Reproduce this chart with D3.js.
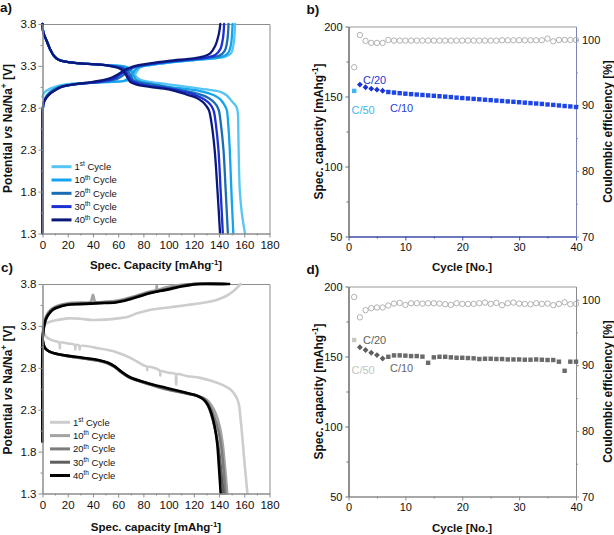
<!DOCTYPE html>
<html><head><meta charset="utf-8">
<script src="https://cdn.jsdelivr.net/npm/d3@7"></script>
<style>body{margin:0;background:#fff}svg{display:block}</style>
</head><body><svg id="c" width="614" height="535"></svg>
<script>
// ---------- tick values ----------
const capTicks = [0,20,40,60,80,100,120,140,160,180];
const capMinor = [10,30,50,70,90,110,130,150,170];
const potTicks = [1.3,1.8,2.3,2.8,3.3,3.8];
const potMinor = [1.55,2.05,2.55,3.05,3.55];
const cycleTicks = [0,10,20,30,40];
const cycleMinor = [5,15,25,35];
const specTicks = [50,100,150,200];
const specMinor = [75,125,175];
const ceTicks = [70,80,90,100];
const ceMinor = [75,85,95];

// ---------- legend ----------
const cycleNums = ["1","10","20","30","40"];
const cycleSup = ["st","th","th","th","th"];
const colorsA = ["#55c6f4","#14a3ee","#1a6db4","#1b2fd4","#0b1878"];
const colorsC = ["#cdcdcd","#a4a4a4","#7c7c7c","#5e5e5e","#000000"];

// ---------- panel a: voltage profiles (capacity mAh/g, potential V) ----------
const aCharge = [
 [[0,2.93],[0.6,2.96],[2,2.99],[5,3.02],[10,3.05],[15,3.07],[25,3.09],[40,3.1],[55,3.11],[66,3.12],[70,3.14],[73,3.19],[75.5,3.25],[78,3.29],[85,3.31],[100,3.34],[120,3.37],[135,3.39],[145,3.41],[149.5,3.45],[151.5,3.56],[152.3,3.68],[152.7,3.8]],
 [[0,1.3],[0,2.6],[0.2,2.78],[1,2.87],[3,2.94],[6,2.99],[10,3.03],[15,3.06],[25,3.08],[40,3.1],[55,3.11],[64,3.12],[68,3.15],[71,3.2],[74,3.26],[78,3.29],[85,3.31],[100,3.34],[120,3.37],[135,3.39],[143,3.41],[147.5,3.46],[149.5,3.56],[150.3,3.68],[150.7,3.8]],
 [[0,1.3],[0,2.6],[0.2,2.78],[1,2.87],[3,2.93],[6,2.98],[10,3.02],[15,3.05],[25,3.08],[40,3.1],[52,3.12],[60,3.15],[65,3.2],[69,3.25],[74,3.29],[85,3.32],[100,3.35],[120,3.38],[132,3.4],[140,3.42],[144.5,3.48],[146.5,3.6],[147.2,3.7],[147.5,3.8]],
 [[0,1.3],[0,2.6],[0.2,2.78],[1,2.86],[3,2.92],[6,2.97],[10,3.01],[15,3.05],[25,3.08],[40,3.1],[50,3.12],[57,3.15],[62,3.2],[67,3.25],[73,3.29],[85,3.32],[100,3.35],[120,3.38],[130,3.4],[137,3.43],[141,3.5],[143,3.62],[143.7,3.72],[144,3.8]],
 [[0,1.3],[0,2.6],[0.2,2.78],[1,2.86],[3,2.92],[6,2.97],[10,3.01],[15,3.05],[25,3.08],[40,3.11],[48,3.13],[55,3.16],[60,3.2],[65,3.25],[71,3.29],[85,3.33],[100,3.36],[120,3.39],[127,3.41],[133,3.45],[137,3.54],[139.5,3.66],[140.5,3.74],[141,3.8]]
];
const aDisStart = [[0,3.8],[0.4,3.72],[1.5,3.66],[3,3.61],[6,3.5],[9,3.42],[12,3.38],[18,3.35],[30,3.33],[50,3.31]];
const aDischarge = [
 [[62,3.3],[68,3.28],[71,3.25],[73,3.2],[75,3.16],[78,3.13],[85,3.11],[100,3.08],[125,3.03],[141,2.99],[146,2.95],[150,2.88],[153.5,2.82],[154.8,2.75],[155.3,2.5],[155.8,2.1],[156.5,1.8],[158,1.55],[160.6,1.3]],
 [[62,3.3],[67,3.28],[70,3.24],[72,3.19],[74,3.14],[78,3.11],[85,3.09],[100,3.05],[125,3.0],[136,2.95],[141,2.9],[144,2.84],[146,2.78],[147.3,2.6],[148.5,2.3],[149.8,1.8],[151.3,1.3]],
 [[60,3.29],[65,3.27],[68,3.23],[70,3.18],[72,3.13],[77,3.1],[85,3.08],[100,3.04],[120,2.98],[130,2.93],[135,2.88],[138,2.83],[139.8,2.77],[141.5,2.6],[143.5,2.3],[145.3,1.8],[147,1.3]],
 [[58,3.29],[63,3.27],[66,3.23],[68.5,3.17],[71,3.12],[76,3.09],[85,3.06],[100,3.03],[118,2.97],[126,2.92],[131,2.87],[134,2.82],[135.8,2.76],[137.5,2.6],[139.5,2.3],[141.3,1.8],[143,1.3]],
 [[56,3.29],[61,3.27],[64.5,3.23],[67,3.17],[69.5,3.11],[74,3.08],[85,3.05],[100,3.02],[114,2.96],[122,2.92],[127,2.87],[130,2.82],[132,2.77],[134,2.62],[136.5,2.3],[138.8,1.8],[140.8,1.3]]
];

// ---------- panel c: voltage profiles ----------
const cCharge = [
 [[0,3.29],[1,3.31],[3,3.33],[6,3.35],[12,3.37],[20,3.39],[30,3.385],[40,3.37],[50,3.375],[60,3.39],[68,3.41],[75,3.45],[85,3.49],[100,3.52],[115,3.55],[125,3.57],[138,3.61],[146,3.66],[151,3.71],[154.5,3.76],[157,3.8]],
 [[0,1.92],[0,3.1],[0.4,3.22],[1.2,3.32],[2.5,3.4],[4.5,3.46],[8,3.51],[12,3.54],[20,3.57],[30,3.58],[38,3.585],[40,3.67],[42,3.585],[50,3.59],[58,3.6],[65,3.62],[72,3.65],[85,3.71],[90,3.73],[90.6,3.78],[91.2,3.735],[98,3.76],[110,3.79],[120,3.8],[142,3.8]],
 [[0,1.92],[0,3.1],[0.4,3.22],[1.2,3.31],[2.5,3.39],[4.5,3.45],[8,3.5],[12,3.53],[20,3.56],[30,3.57],[45,3.58],[58,3.59],[65,3.61],[72,3.64],[85,3.7],[98,3.74],[110,3.78],[120,3.8],[144,3.8]],
 [[0,1.92],[0,3.11],[0.4,3.21],[1.2,3.3],[2.5,3.38],[4.5,3.44],[8,3.5],[12,3.53],[20,3.555],[30,3.565],[45,3.575],[58,3.585],[65,3.605],[72,3.635],[85,3.695],[98,3.735],[110,3.775],[120,3.8],[146,3.8]],
 [[0,1.92],[0,3.12],[0.4,3.2],[1.2,3.29],[2.5,3.37],[4.5,3.43],[8,3.49],[12,3.52],[19,3.55],[30,3.56],[45,3.57],[58,3.58],[65,3.6],[72,3.63],[85,3.69],[98,3.73],[110,3.77],[118,3.79],[125,3.8],[148,3.8]]
];
const cDischarge = [
 [[0,3.29],[1,3.22],[3,3.17],[6,3.14],[12,3.11],[13.3,3.1],[13.8,3.03],[14.3,3.1],[20,3.09],[25.5,3.075],[26,3.02],[26.5,3.07],[29,3.065],[29.5,3.02],[30,3.06],[45.5,3.03],[58,2.99],[65,2.95],[72,2.9],[80,2.83],[82.6,2.815],[83,2.77],[83.4,2.81],[93,2.765],[93.4,2.71],[93.8,2.76],[100,2.74],[105.6,2.725],[106,2.6],[106.4,2.72],[115,2.7],[125,2.68],[135,2.64],[143.5,2.59],[149,2.54],[153,2.47],[155.5,2.38],[157,2.2],[158.3,2.0],[160,1.7],[162.5,1.3]],
 [[0,3.16],[0.5,3.1],[1.5,3.05],[3,3.02],[6,2.99],[10,2.97],[19,2.94],[32,2.91],[45,2.88],[52,2.85],[57,2.81],[62,2.75],[69,2.68],[85,2.6],[98.5,2.54],[111.7,2.5],[124,2.46],[130,2.42],[134,2.35],[137.5,2.25],[140.5,2.1],[142.8,1.9],[144.8,1.6],[146.5,1.3]],
 [[0,3.16],[0.5,3.1],[1.5,3.05],[3,3.02],[6,2.99],[10,2.97],[19,2.94],[32,2.915],[45,2.885],[52,2.855],[57,2.815],[62,2.755],[69,2.685],[85,2.605],[98.5,2.545],[111.7,2.505],[123,2.465],[129,2.42],[133,2.33],[136.5,2.2],[139.5,2.05],[141.8,1.85],[143.5,1.6],[145,1.3]],
 [[0,3.15],[0.5,3.1],[1.5,3.05],[3,3.02],[6,2.99],[10,2.97],[19,2.945],[32,2.915],[45,2.885],[52,2.855],[57,2.815],[62,2.755],[69,2.685],[85,2.605],[98.5,2.55],[111.7,2.505],[122.5,2.465],[128,2.42],[132,2.32],[135,2.18],[137.8,2.0],[140,1.8],[141.8,1.55],[143.5,1.3]],
 [[0,3.15],[0.5,3.1],[1.5,3.05],[3,3.02],[6,2.99],[10,2.97],[19,2.945],[32,2.92],[45,2.89],[52,2.86],[57,2.82],[62,2.76],[69,2.69],[85,2.61],[98.5,2.56],[111.7,2.51],[122,2.47],[127,2.43],[131,2.36],[134,2.25],[136.5,2.1],[138.5,1.9],[140,1.6],[141.3,1.3]]
];

// ---------- panel b: cycling (blue) ----------
const bC50Cycle = [1];
const bC50Cap = [154.0];
const bC20Cycles = [2,3,4,5,6];
const bC20Cap = [158.5,156.6,155.6,154.9,154.1];
const bC10Cycles = [7,8,9,10,11,12,13,14,15,16,17,18,19,20,21,22,23,24,25,26,27,28,29,30,31,32,33,34,35,36,37,38,39,40];
const bC10Cap = [153.2,152.8,152.4,152.0,151.7,151.4,151.1,150.8,150.5,150.2,149.9,149.6,149.2,148.9,148.6,148.3,148.0,147.7,147.4,147.1,146.8,146.5,146.2,145.9,145.6,145.3,145.0,144.7,144.3,144.0,143.6,143.2,142.9,142.5];
const bCECycles = [1,2,3,4,5,6,7,8,9,10,11,12,13,14,15,16,17,18,19,20,21,22,23,24,25,26,27,28,29,30,31,32,33,34,35,36,37,38,39,40];
const bCE = [95.8,100.7,99.8,99.5,99.5,99.5,99.95,99.85,99.85,99.85,99.85,99.85,99.85,99.85,99.85,99.85,99.85,99.85,99.85,99.85,99.85,99.85,99.85,99.85,99.85,99.85,99.9,99.9,99.9,99.9,99.9,99.9,99.9,99.9,100.15,99.75,99.95,99.95,99.95,99.95];

// ---------- panel d: cycling (grey) ----------
const dC50Cap = [161.8];
const dC20Cap = [156.6,154.6,152.7,151.0,148.6];
const dC10Cap = [149.8,150.8,150.8,150.6,150.3,150.3,149.9,145.5,149.4,149.8,149.8,149.4,149.1,149.1,148.9,148.7,148.2,148.4,148.4,148.2,148.2,147.9,147.9,147.9,147.7,147.7,147.9,147.7,147.5,147.5,146.3,139.8,146.3,146.3];
const dCE = [100.4,97.3,98.4,98.7,98.8,98.8,99.1,99.4,99.5,99.2,99.45,99.45,99.4,99.45,99.45,99.4,99.3,99.2,99.45,99.35,99.35,99.35,99.45,99.55,99.35,99.5,99.15,99.45,99.55,99.4,99.35,99.3,99.45,99.35,99.4,99.15,99.35,99.6,99.3,99.35];

// ================= drawing =================
const FONT = "'Liberation Sans', Arial, sans-serif";
const svg = d3.select("#c").attr("font-family", FONT);

function styleAxis(g, color, fs) {
  g.attr("font-family", FONT).attr("font-size", fs);
  g.select(".domain").attr("stroke", color).attr("stroke-width", 1);
  g.selectAll(".tick line").attr("stroke", color);
  g.selectAll(".tick text").attr("fill", "#111");
  return g;
}
function addAxis(axis, tx, ty, color, fs) {
  return styleAxis(svg.append("g").attr("transform", `translate(${tx},${ty})`).call(axis), color, fs);
}
function richText(x, y, parts, opts) {
  const t = svg.append("text").attr("x", x).attr("y", y)
    .attr("font-size", opts.fs).attr("font-weight", opts.bold ? "bold" : "normal")
    .attr("text-anchor", opts.anchor || "start").attr("fill", opts.fill || "#111");
  if (opts.rotate) t.attr("transform", `rotate(-90,${x},${y})`);
  let shift = 0;
  parts.forEach(p => {
    const s = t.append("tspan").text(p.t);
    if (p.i) s.attr("font-style", "italic");
    if (p.sup && shift === 0) { s.attr("dy", -opts.fs * 0.38).attr("font-size", opts.fs * 0.68); shift = 1; }
    else if (!p.sup && shift === 1) { s.attr("dy", opts.fs * 0.38); shift = 0; }
  });
  return t;
}

// ----- profile panels (a, c) -----
function profilePanel(top, bottom, charge, discharge, colors, lw, legY, legX) {
  const x = d3.scaleLinear().domain([0,180]).range([42.5,269.5]);
  const y = d3.scaleLinear().domain([1.3,3.8]).range([bottom, top]);
  const frameCol = "#8d8d8d";
  addAxis(d3.axisTop(x).tickValues([]).tickSizeOuter(0), 0, top, frameCol, 11);
  addAxis(d3.axisRight(y).tickValues([]).tickSizeOuter(0), 269.5, 0, frameCol, 11);
  const line = d3.line().x(d => x(d[0])).y(d => y(d[1])).curve(d3.curveCatmullRom.alpha(0.5));
  const gl = svg.append("g").attr("fill", "none").attr("stroke-linejoin", "round").attr("stroke-linecap", "round");
  charge.forEach((c, i) => {
    gl.append("path").attr("d", line(c)).attr("stroke", colors[i]).attr("stroke-width", lw);
    gl.append("path").attr("d", line(discharge[i])).attr("stroke", colors[i]).attr("stroke-width", lw);
  });
  addAxis(d3.axisBottom(x).tickValues(capMinor).tickSize(2).tickFormat("").tickSizeOuter(0), 0, bottom, frameCol, 11);
  addAxis(d3.axisBottom(x).tickValues(capTicks).tickSize(4).tickPadding(3).tickSizeOuter(0), 0, bottom, frameCol, 11.5);
  addAxis(d3.axisLeft(y).tickValues(potMinor).tickSize(2).tickFormat("").tickSizeOuter(0), 42.5, 0, frameCol, 11);
  addAxis(d3.axisLeft(y).tickValues(potTicks).tickSize(4).tickPadding(2).tickFormat(d3.format(".1f")).tickSizeOuter(0), 42.5, 0, frameCol, 11.5);
  const lg = svg.append("g");
  cycleNums.forEach((n, i) => {
    const yy = legY + i * 13.3;
    lg.append("line").attr("x1", legX).attr("x2", legX + 20).attr("y1", yy).attr("y2", yy)
      .attr("stroke", colors[i]).attr("stroke-width", 3);
    richText(legX + 23, yy + 3.3, [{t:n},{t:cycleSup[i], sup:true},{t:" Cycle"}], {fs: 9.5});
  });
}
profilePanel(24, 233.5, aCharge, aDischarge.map(d => aDisStart.concat(d)), colorsA, 2.3, 166.7, 51.5);
profilePanel(284, 493.5, cCharge, cDischarge, colorsC, 2.6, 422.3, 50);

// ----- cycling panels (b, d) -----
function cyclePanel(top, bottom, cols, data) {
  const x = d3.scaleLinear().domain([0,40]).range([348.5,576]);
  const yl = d3.scaleLinear().domain([50,200]).range([bottom, top]);
  const yr = d3.scaleLinear().domain([70,102]).range([bottom, top]);
  addAxis(d3.axisTop(x).tickValues([]).tickSizeOuter(0), 0, top, "#9a9a9a", 11);
  addAxis(d3.axisBottom(x).tickValues(cycleMinor).tickSize(2).tickFormat("").tickSizeOuter(0), 0, bottom, cols.bottom, 11);
  addAxis(d3.axisBottom(x).tickValues(cycleTicks).tickSize(4).tickPadding(3).tickSizeOuter(0), 0, bottom, cols.bottom, 11);
  addAxis(d3.axisLeft(yl).tickValues(specMinor).tickSize(2).tickFormat("").tickSizeOuter(0), 348.5, 0, cols.left, 11);
  addAxis(d3.axisLeft(yl).tickValues(specTicks).tickSize(3).tickPadding(3).tickSizeOuter(0), 348.5, 0, cols.left, 11);
  addAxis(d3.axisRight(yr).tickValues(ceMinor).tickSize(2).tickFormat("").tickSizeOuter(0), 576, 0, cols.right, 11);
  addAxis(d3.axisRight(yr).tickValues(ceTicks).tickSize(3).tickPadding(3).tickSizeOuter(0), 576, 0, cols.right, 11);
  const g = svg.append("g");
  g.selectAll(null).data(bCECycles.map((c, i) => [c, data.ce[i]])).join("circle")
    .attr("cx", d => x(d[0])).attr("cy", d => yr(d[1])).attr("r", 2.7)
    .attr("fill", "none").attr("stroke", "#a9a9a9").attr("stroke-width", 0.9);
  g.selectAll(null).data(bC50Cycle.map((c, i) => [c, data.c50[i]])).join("rect")
    .attr("x", d => x(d[0]) - 2.2).attr("y", d => yl(d[1]) - 2.2).attr("width", 4.4).attr("height", 4.4)
    .attr("fill", cols.c50);
  g.selectAll(null).data(bC20Cycles.map((c, i) => [c, data.c20[i]])).join("path")
    .attr("d", d3.symbol(d3.symbolDiamond2, 22))
    .attr("transform", d => `translate(${x(d[0])},${yl(d[1])})`).attr("fill", cols.c20);
  g.selectAll(null).data(bC10Cycles.map((c, i) => [c, data.c10[i]])).join("rect")
    .attr("x", d => x(d[0]) - 2.2).attr("y", d => yl(d[1]) - 2.2).attr("width", 4.4).attr("height", 4.4)
    .attr("fill", cols.c10);
  svg.append("text").attr("x", 363).attr("y", top + 57.5).attr("font-size", 11).attr("fill", cols.t20).text("C/20");
  svg.append("text").attr("x", 351.5).attr("y", top + 87.5).attr("font-size", 11).attr("fill", cols.t50).text("C/50");
  svg.append("text").attr("x", 390).attr("y", top + 85.5).attr("font-size", 11).attr("fill", cols.t10).text("C/10");
}
cyclePanel(26.5, 236.5,
  {bottom:"#3e4ca6", left:"#6a6a6a", right:"#7c86b6", c50:"#3fb6ee", c20:"#1a34d2", c10:"#1e46e6", t20:"#2436d4", t50:"#3fb6ee", t10:"#2a40d8"},
  {ce:bCE, c50:bC50Cap, c20:bC20Cap, c10:bC10Cap});
cyclePanel(286.5, 496.5,
  {bottom:"#8a8a8a", left:"#6a6a6a", right:"#8a8a8a", c50:"#c8c8c8", c20:"#5e5e5e", c10:"#6a6a6a", t20:"#606060", t50:"#c4c4c4", t10:"#666666"},
  {ce:dCE, c50:dC50Cap, c20:dC20Cap, c10:dC10Cap});

// ----- titles -----
const potTitle = [{t:"Potential "},{t:"vs", i:true},{t:" Na/Na"},{t:"+", sup:true},{t:" [V]"}];
richText(11.5, 128.5, potTitle, {fs:12, bold:true, anchor:"middle", rotate:true});
richText(11.5, 390, potTitle, {fs:12, bold:true, anchor:"middle", rotate:true});
richText(156, 269, [{t:"Spec. Capacity [mAhg"},{t:"-1", sup:true},{t:"]"}], {fs:11.5, bold:true, anchor:"middle"});
richText(156, 531, [{t:"Spec. capacity [mAhg"},{t:"-1", sup:true},{t:"]"}], {fs:11.5, bold:true, anchor:"middle"});
const specTitle = [{t:"Spec. capacity [mAhg"},{t:"-1", sup:true},{t:"]"}];
richText(322.5, 131.5, specTitle, {fs:12, bold:true, anchor:"middle", rotate:true});
richText(322.5, 391.5, specTitle, {fs:12, bold:true, anchor:"middle", rotate:true});
richText(611.5, 131.5, [{t:"Coulombic efficiency [%]"}], {fs:12, bold:true, anchor:"middle", rotate:true});
richText(611.5, 391.5, [{t:"Coulombic efficiency [%]"}], {fs:12, bold:true, anchor:"middle", rotate:true});
richText(462, 271, [{t:"Cycle [No.]"}], {fs:11.5, bold:true, anchor:"middle"});
richText(462, 532, [{t:"Cycle [No.]"}], {fs:11.5, bold:true, anchor:"middle"});
[["a)",0,12],["b)",306.5,14],["c)",1,272],["d)",306.5,274]].forEach(p =>
  svg.append("text").attr("x", p[1]).attr("y", p[2]).attr("font-size", 13.5).attr("font-weight", "bold").attr("fill", "#111").text(p[0]));
</script></body></html>
